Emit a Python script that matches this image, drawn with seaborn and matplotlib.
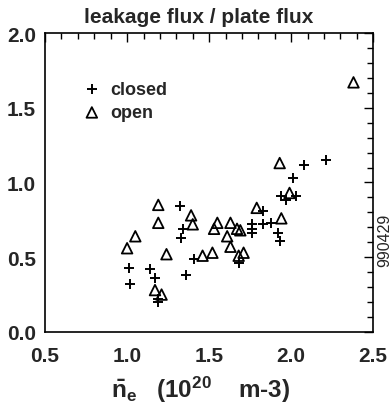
import matplotlib
matplotlib.use("Agg")
import matplotlib.pyplot as plt
import seaborn as sns
import pandas as pd
from matplotlib.ticker import MultipleLocator, FormatStrFormatter

# ---- data ----
closed_ne = [1.01, 1.02, 1.14, 1.17, 1.19, 1.19, 1.32, 1.34, 1.33, 1.36, 1.41,
             1.68, 1.76, 1.76, 1.76, 1.83, 1.83, 1.88, 1.92, 1.93, 1.94, 1.97,
             2.03, 2.01, 2.08, 2.21]
closed_ratio = [0.43, 0.32, 0.42, 0.36, 0.22, 0.20, 0.84, 0.69, 0.63, 0.38, 0.49,
                0.46, 0.72, 0.69, 0.66, 0.72, 0.81, 0.73, 0.66, 0.61, 0.91, 0.88,
                0.91, 1.03, 1.12, 1.15]
open_ne = [1.00, 1.05, 1.19, 1.19, 1.24, 1.17, 1.21, 1.39, 1.40, 1.46, 1.52, 1.53,
           1.55, 1.63, 1.61, 1.63, 1.67, 1.69, 1.68, 1.71, 1.79, 1.94, 1.93, 1.99,
           2.38]
open_ratio = [0.56, 0.64, 0.85, 0.73, 0.52, 0.28, 0.25, 0.78, 0.72, 0.51, 0.53, 0.69,
              0.73, 0.73, 0.64, 0.57, 0.69, 0.68, 0.51, 0.53, 0.83, 0.76, 1.13, 0.93,
              1.67]
series_labels = ["closed", "open"]
title_text = "leakage flux / plate flux"
shot_text = "990429"
x_range = [0.5, 2.5]
y_range = [0.0, 2.0]

sns.set_style("white")
plt.rcParams["font.family"] = ["Liberation Sans", "DejaVu Sans"]
plt.rcParams["mathtext.fontset"] = "custom"
plt.rcParams["mathtext.rm"] = "Liberation Sans:bold"
plt.rcParams["mathtext.it"] = "Liberation Sans:bold"
plt.rcParams["mathtext.bf"] = "Liberation Sans:bold"

fig = plt.figure(figsize=(3.92, 4.10), dpi=100)
ax = fig.add_axes([0.115, 0.188, 0.837, 0.729])

df_closed = pd.DataFrame({"ne": closed_ne, "ratio": closed_ratio})
df_open = pd.DataFrame({"ne": open_ne, "ratio": open_ratio})

sns.scatterplot(data=df_closed, x="ne", y="ratio", marker="+", s=62,
                color="black", linewidth=1.4, ax=ax, label=series_labels[0])
sns.scatterplot(data=df_open, x="ne", y="ratio", marker="^", s=58,
                color="black", facecolor="none", edgecolor="black",
                linewidth=1.3, ax=ax, label=series_labels[1])
for coll in ax.collections[1:]:
    coll.set_facecolor("none")

ax.set_xlim(*x_range)
ax.set_ylim(*y_range)
ax.xaxis.set_major_locator(MultipleLocator(0.5))
ax.xaxis.set_minor_locator(MultipleLocator(0.1))
ax.yaxis.set_major_locator(MultipleLocator(0.5))
ax.yaxis.set_minor_locator(MultipleLocator(0.1))
ax.xaxis.set_major_formatter(FormatStrFormatter("%.1f"))
ax.yaxis.set_major_formatter(FormatStrFormatter("%.1f"))
ax.tick_params(which="both", direction="in", top=True, right=True,
               color="black", labelsize=15)
ax.tick_params(which="major", length=6.5, width=1.0)
ax.tick_params(which="minor", length=4, width=1.0)
ax.tick_params(axis="x", pad=10)
ax.tick_params(axis="y", pad=6.5)
for lab in ax.get_xticklabels() + ax.get_yticklabels():
    lab.set_fontweight("bold")
for sp in ax.spines.values():
    sp.set_color("black")
    sp.set_linewidth(1.2)

ax.set_ylabel("")
ax.set_xlabel(r"$\bar{\mathrm{n}}_{\mathrm{e}}$   (10$^{\mathrm{20}}$    m-3)",
              fontsize=17.5, fontweight="bold")
ax.xaxis.set_label_coords(0.474, -0.14)

ax.set_title(title_text, fontsize=15, fontweight="bold", x=0.468, pad=8)

leg = ax.legend(loc="upper left", bbox_to_anchor=(0.115, 0.84), frameon=False,
                handlelength=1.0, handletextpad=0.5, borderpad=0,
                labelspacing=0.35, borderaxespad=0,
                prop={"weight": "bold", "size": 13})

fig.text(385 / 392, 1 - 240 / 410, shot_text, rotation=90, ha="center",
         va="center", fontsize=11.5)

fig.savefig("out.png", dpi=100)
